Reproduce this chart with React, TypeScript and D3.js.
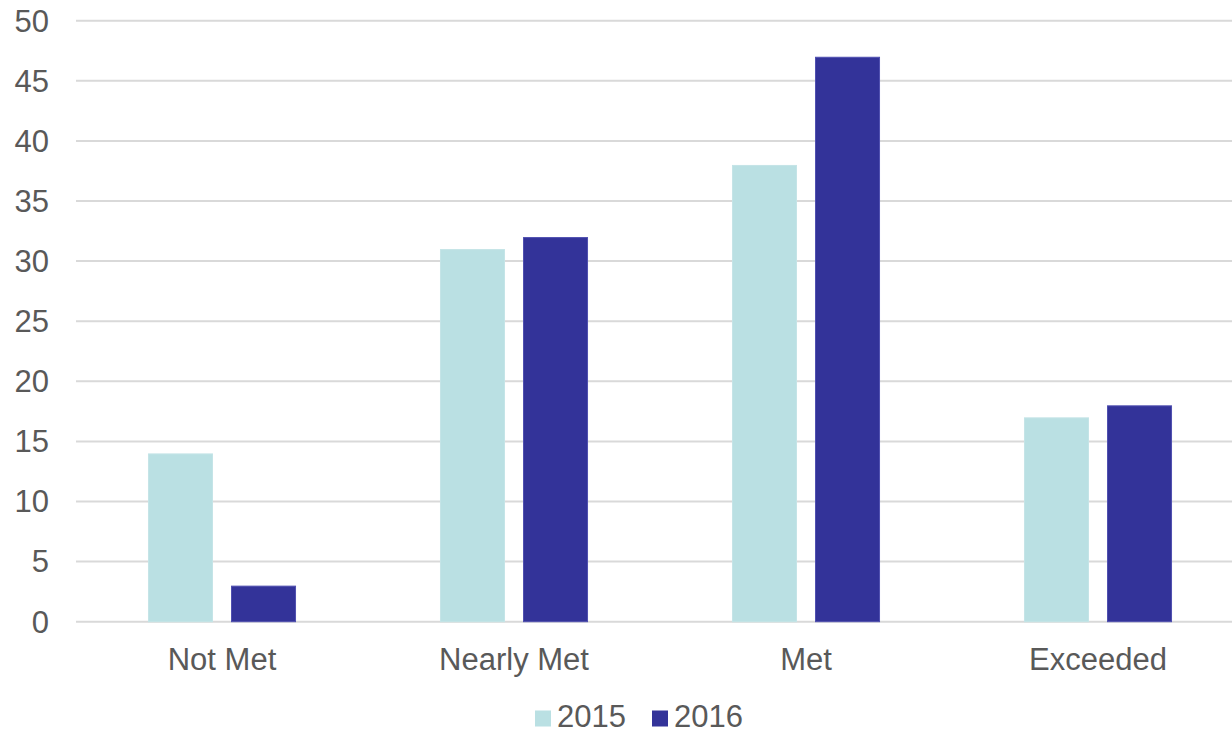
import React, { useLayoutEffect, useRef } from 'react';
import * as d3 from 'd3';

const categories = ['Not Met', 'Nearly Met', 'Met', 'Exceeded'];
const seriesNames = ['2015', '2016'];
const values2015 = [14, 31, 38, 17];
const values2016 = [3, 32, 47, 18];
const yTicks = [0, 5, 10, 15, 20, 25, 30, 35, 40, 45, 50];

const colors = ['#bae0e3', '#333399'];
const edges = ['#c4e4e7', '#5050b0'];

const width = 1232;
const height = 734;
const margin = { top: 20.7, left: 76, bottom: 112.3 };
const font = '"Liberation Sans", Arial, sans-serif';
const fontSize = 31;

const drawChart = (container: SVGSVGElement) => {
  const svg = d3.select(container);
  svg.selectAll('*').remove();

  const chartBottom = height - margin.bottom;
  const xScale = d3
    .scaleBand<string>()
    .domain(categories)
    .range([margin.left, margin.left + 292 * categories.length])
    .paddingInner(0.493)
    .paddingOuter(0.2465);
  const xInner = d3
    .scaleBand<string>()
    .domain(seriesNames)
    .range([0, xScale.bandwidth()])
    .paddingInner(0.2169);
  const yScale = d3.scaleLinear().domain([0, 50]).range([chartBottom, margin.top]);

  // grid + y labels
  const grid = svg.append('g');
  grid
    .selectAll('line')
    .data(yTicks)
    .enter()
    .append('line')
    .attr('x1', margin.left)
    .attr('x2', width)
    .attr('y1', (d) => yScale(d))
    .attr('y2', (d) => yScale(d))
    .attr('stroke', '#d9d9d9')
    .attr('stroke-width', 2);
  grid
    .selectAll('text')
    .data(yTicks)
    .enter()
    .append('text')
    .attr('x', 49)
    .attr('y', (d) => yScale(d))
    .attr('dy', '0.35em')
    .attr('text-anchor', 'end')
    .attr('font-family', font)
    .attr('font-size', fontSize)
    .attr('fill', '#595959')
    .text((d) => d);

  // bars
  const series = [values2015, values2016];
  const groups = svg
    .append('g')
    .selectAll('g')
    .data(categories)
    .enter()
    .append('g')
    .attr('transform', (c) => `translate(${xScale(c)},0)`);
  groups
    .selectAll('rect')
    .data((c, i) => seriesNames.map((s, si) => ({ s, si, v: series[si][i] })))
    .enter()
    .append('rect')
    .attr('x', (d) => (xInner(d.s) || 0) + 0.5)
    .attr('y', (d) => yScale(d.v) + 0.5)
    .attr('width', xInner.bandwidth() - 1)
    .attr('height', (d) => chartBottom - yScale(d.v) - 0.5)
    .attr('fill', (d) => colors[d.si])
    .attr('stroke', (d) => edges[d.si])
    .attr('stroke-width', 1);

  // category labels
  svg
    .append('g')
    .selectAll('text')
    .data(categories)
    .enter()
    .append('text')
    .attr('x', (c) => (xScale(c) || 0) + xScale.bandwidth() / 2)
    .attr('y', 670)
    .attr('text-anchor', 'middle')
    .attr('font-family', font)
    .attr('font-size', fontSize)
    .attr('fill', '#595959')
    .text((c) => c);

  // legend
  const legendX = [535, 652];
  const legend = svg
    .append('g')
    .selectAll('g')
    .data(seriesNames)
    .enter()
    .append('g')
    .attr('transform', (d, i) => `translate(${legendX[i]},0)`);
  legend
    .append('rect')
    .attr('x', 0)
    .attr('y', 710.5)
    .attr('width', 16)
    .attr('height', 16)
    .attr('fill', (d, i) => colors[i]);
  legend
    .append('text')
    .attr('x', 22)
    .attr('y', 727)
    .attr('font-family', font)
    .attr('font-size', fontSize)
    .attr('fill', '#595959')
    .text((d) => d);
};

export default function App() {
  const ref = useRef<SVGSVGElement>(null);

  useLayoutEffect(() => {
    if (ref.current) drawChart(ref.current);
  }, []);

  return (
    <svg
      ref={ref}
      width={width}
      height={height}
      style={{ position: 'absolute', left: 0, top: 0, background: '#fff' }}
    />
  );
}
